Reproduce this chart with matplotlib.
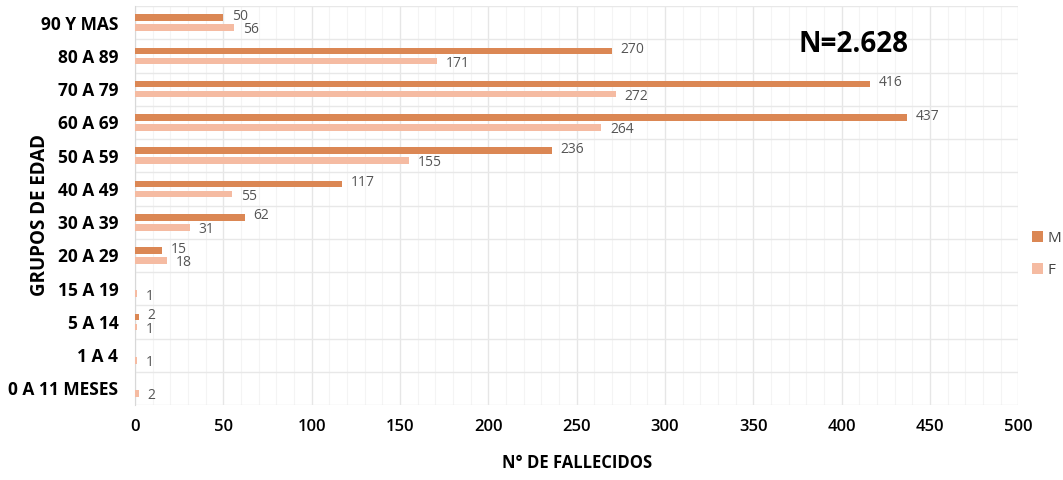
import numpy as np
import matplotlib.pyplot as plt
from matplotlib.ticker import MultipleLocator

grupos = ["90 Y MAS", "80 A 89", "70 A 79", "60 A 69", "50 A 59", "40 A 49",
          "30 A 39", "20 A 29", "15 A 19", "5 A 14", "1 A 4", "0 A 11 MESES"]
hombres = [50, 270, 416, 437, 236, 117, 62, 15, 0, 2, 0, 0]
mujeres = [56, 171, 272, 264, 155, 55, 31, 18, 1, 1, 1, 2]
total_txt = "N=2.628"

col_m = "#DB8754"
col_f = "#F5BBA2"

fig = plt.figure(figsize=(10.63, 4.8), dpi=100)
ax = fig.add_axes([0.127, 0.156, 0.831, 0.8315])

y = np.arange(len(grupos))
h = 0.2
off = 0.15
bm = ax.barh(y - off, hombres, height=h, color=col_m, label="M", zorder=3)
bf = ax.barh(y + off, mujeres, height=h, color=col_f, label="F", zorder=3)

# etiquetas de valor (se omiten los ceros)
for yi, v in zip(y, hombres):
    if v > 0:
        ax.text(v + 5, yi - off - 0.04, str(v), va="center", ha="left",
                fontsize=10, color="#555555", fontfamily="Open Sans")
for yi, v in zip(y, mujeres):
    if v > 0:
        ax.text(v + 5, yi + off + 0.07, str(v), va="center", ha="left",
                fontsize=10, color="#555555", fontfamily="Open Sans")

ax.set_xlim(0, 500)
ax.set_ylim(len(grupos) - 0.5, -0.5)
ax.set_yticks(y)
ax.set_yticklabels(grupos, fontsize=12.5, fontweight="bold", fontfamily="Open Sans")
ax.set_xticks(np.arange(0, 501, 50))
ax.tick_params(axis="x", labelsize=12, length=0, pad=10)
ax.tick_params(axis="y", length=0, pad=12)
for t in ax.get_xticklabels():
    t.set_fontfamily("Open Sans")
    t.set_fontweight("semibold")

# cuadrícula: líneas entre grupos y verticales cada 50 / 10
ax.set_yticks(np.arange(-0.5, len(grupos), 1), minor=True)
ax.xaxis.set_minor_locator(MultipleLocator(10))
ax.grid(axis="y", which="minor", color="#E8E8E8", lw=1.0, zorder=0)
ax.grid(axis="x", which="major", color="#E6E6E6", lw=1.0, zorder=0)
ax.grid(axis="x", which="minor", color="#F4F4F4", lw=0.8, zorder=0)
ax.tick_params(which="minor", length=0)
for s in ["top", "right", "bottom"]:
    ax.spines[s].set_visible(False)
ax.spines["left"].set_color("#D8D8D8")

ax.set_xlabel("N° DE FALLECIDOS", fontsize=12, fontweight="bold",
              fontfamily="Open Sans", labelpad=14)
ax.set_ylabel("GRUPOS DE EDAD", fontsize=13.5, fontweight="bold",
              fontfamily="Open Sans")
ax.yaxis.set_label_coords(-0.096, 0.477)

ax.text(0.751, 0.94, total_txt, transform=ax.transAxes, fontsize=20,
        fontweight="bold", fontfamily="Open Sans", ha="left", va="top")

leg = fig.legend(handles=[bm, bf], loc="center left", bbox_to_anchor=(0.958, 0.47),
                 frameon=False, handlelength=0.7, handleheight=0.7,
                 handletextpad=0.3, labelspacing=1.1,
                 prop={"family": "Open Sans", "size": 11})
for t in leg.get_texts():
    t.set_color("#444444")

fig.savefig("out.png", dpi=100)
